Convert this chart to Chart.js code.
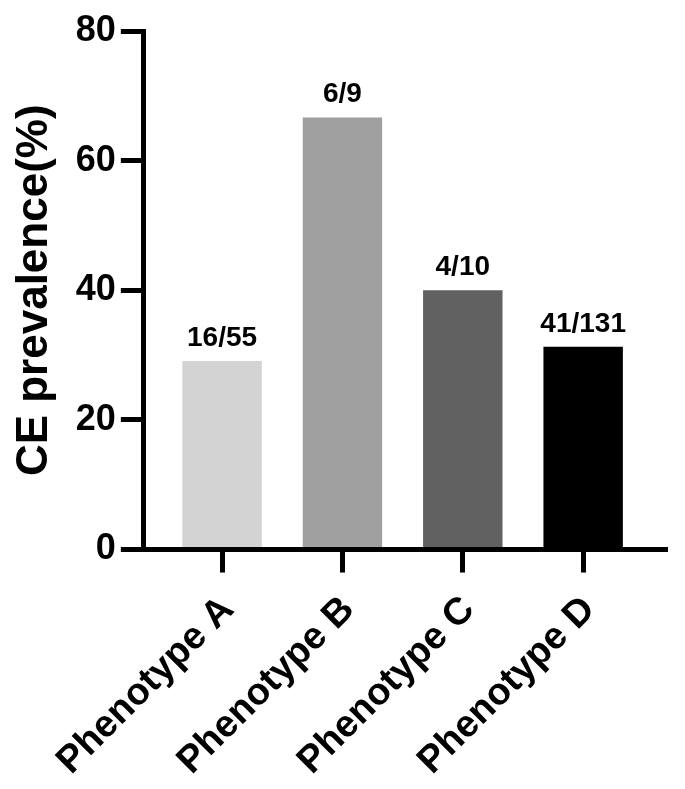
<!DOCTYPE html>
<html>
<head>
<meta charset="utf-8">
<script src="https://cdn.jsdelivr.net/npm/chart.js@4/dist/chart.umd.min.js"></script>
<style>
  body { margin: 0; background: #fff; }
  #wrap { width: 685px; height: 789px; }
</style>
</head>
<body>
<div id="wrap"><canvas id="cePrev" width="685" height="789"></canvas></div>
<script>
// data
const categories = ["Phenotype A", "Phenotype B", "Phenotype C", "Phenotype D"];
const prevalence = [29.09, 66.67, 40.0, 31.30];
const ratioLabels = ["16/55", "6/9", "4/10", "41/131"];
const barColors = ["#d3d3d3", "#a0a0a0", "#616161", "#000000"];
const yTicks = [0, 20, 40, 60, 80];

const FONT = "'Liberation Sans', Arial, Helvetica, sans-serif";

// text above every bar
const ratioPlugin = {
  id: "ratioLabels",
  afterDatasetsDraw(chart){
    const ctx = chart.ctx;
    const meta = chart.getDatasetMeta(0);
    ctx.save();
    ctx.font = "bold 28px " + FONT;
    ctx.fillStyle = "#000";
    ctx.textAlign = "center";
    ctx.textBaseline = "alphabetic";
    meta.data.forEach((bar, i) => {
      ctx.fillText(ratioLabels[i], bar.x, bar.y - 15);
    });
    ctx.restore();
  }
};

const points = categories.map((c, i) => ({ x: i + 1, y: prevalence[i] }));

new Chart(document.getElementById("cePrev"), {
  type: "bar",
  data: {
    datasets: [{
      data: points,
      backgroundColor: barColors,
      borderWidth: 0,
      barPercentage: 0.66,
      categoryPercentage: 1
    }]
  },
  options: {
    responsive: false,
    animation: false,
    layout: { padding: { left: 8, right: 20, top: 31, bottom: -10 } },
    plugins: { legend: { display: false }, tooltip: { enabled: false } },
    scales: {
      x: {
        type: "linear",
        min: 0.35,
        max: 4.68,
        offset: false,
        afterBuildTicks(scale){
          scale.ticks = categories.map((c, i) => ({ value: i + 1 }));
        },
        grid: { offset: false, drawOnChartArea: false, drawTicks: true, tickLength: 23, lineWidth: 5, tickWidth: 5, color: "#000", tickColor: "#000" },
        border: { display: true, width: 5, color: "#000" },
        ticks: {
          autoSkip: false,
          minRotation: 45,
          maxRotation: 45,
          padding: 15,
          labelOffset: 6,
          color: "#000",
          font: { family: FONT, size: 38, weight: "bold" },
          callback: (v) => categories[v - 1]
        }
      },
      y: {
        min: 0,
        max: 80,
        afterBuildTicks(scale){
          scale.ticks = yTicks.map(v => ({ value: v }));
        },
        grid: { drawOnChartArea: false, drawTicks: true, tickLength: 23, lineWidth: 5, tickWidth: 5, color: "#000", tickColor: "#000" },
        border: { display: true, width: 5, color: "#000" },
        ticks: {
          padding: 5,
          color: "#000",
          font: { family: FONT, size: 36, weight: "bold" }
        },
        title: {
          display: true,
          text: "CE prevalence(%)",
          color: "#000",
          padding: { top: 0, bottom: 10 },
          font: { family: FONT, size: 44, weight: "bold" }
        }
      }
    }
  },
  plugins: [ratioPlugin]
});
</script>
</body>
</html>
